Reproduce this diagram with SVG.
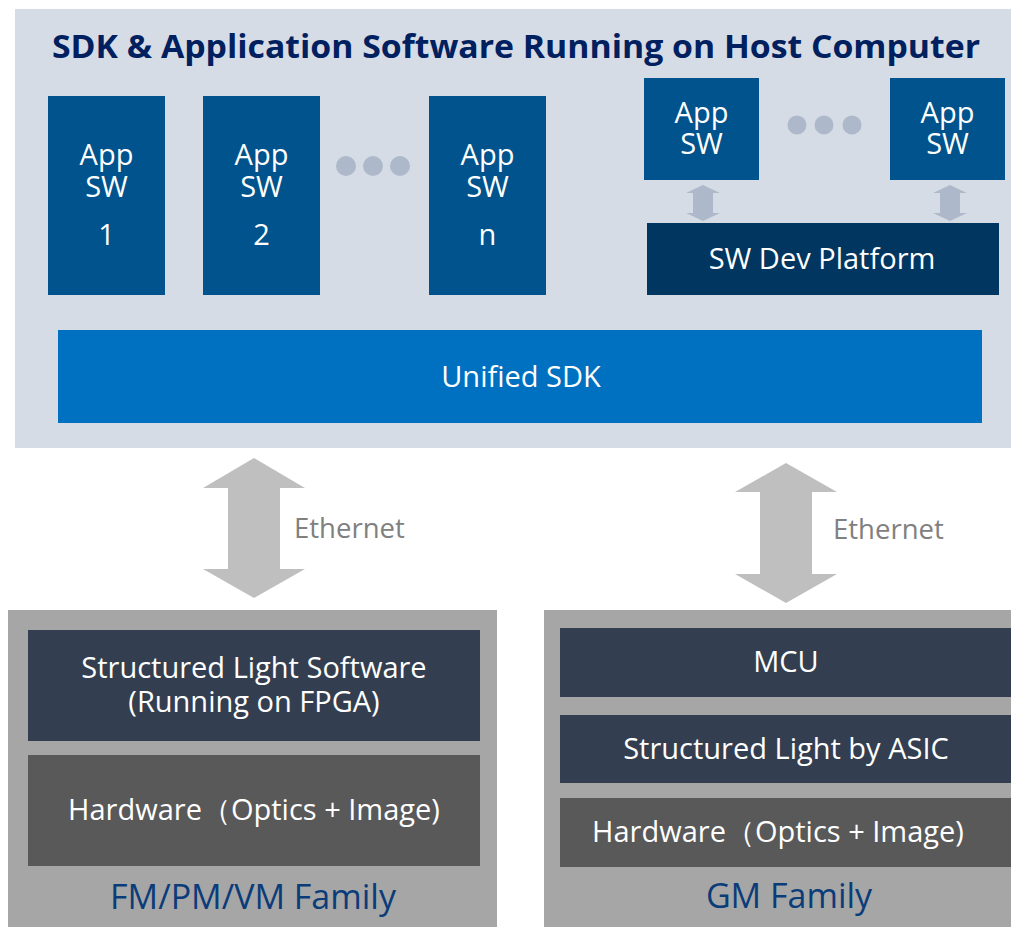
<svg xmlns="http://www.w3.org/2000/svg" width="1011" height="927" viewBox="0 0 1011 927">
<style>
.t{font-family:"Open Sans","Noto Sans","Liberation Sans",sans-serif;fill:#fff;text-anchor:middle}
.app{fill:#00538c}
.dot{fill:#adb9ca}
.dark{fill:#333f50}
.hw{fill:#595959}
.panel{fill:#a6a6a6}
.fam{font-family:"Open Sans","Noto Sans","Liberation Sans",sans-serif;fill:#0b3c7a;text-anchor:middle;font-size:34px}
.eth{font-family:"Open Sans","Noto Sans","Liberation Sans",sans-serif;fill:#808080;font-size:27.5px}
</style>
<rect width="1011" height="927" fill="#fff"/>
<g id="host">
<rect x="15" y="9" width="996" height="439" fill="#d6dce5"/>
<text x="516" y="58" font-family="Open Sans,Noto Sans,sans-serif" font-weight="bold" font-size="32" fill="#002060" text-anchor="middle" textLength="928" lengthAdjust="spacingAndGlyphs">SDK &amp; Application Software Running on Host Computer</text>
</g>
<g id="app1"><rect class="app" x="48" y="96" width="117" height="199"/><text class="t" font-size="29" x="106.5" y="165">App</text><text class="t" font-size="29" x="106.5" y="197">SW</text><text class="t" font-size="29" x="106.5" y="245">1</text></g>
<g id="app2"><rect class="app" x="203" y="96" width="117" height="199"/><text class="t" font-size="29" x="261.5" y="165">App</text><text class="t" font-size="29" x="261.5" y="197">SW</text><text class="t" font-size="29" x="261.5" y="245">2</text></g>
<g id="dots1"><circle class="dot" cx="346" cy="166" r="10"/><circle class="dot" cx="373" cy="166" r="10"/><circle class="dot" cx="400" cy="166" r="10"/></g>
<g id="appn"><rect class="app" x="429" y="96" width="117" height="199"/><text class="t" font-size="29" x="487.5" y="165">App</text><text class="t" font-size="29" x="487.5" y="197">SW</text><text class="t" font-size="29" x="487.5" y="245">n</text></g>
<g id="appA"><rect class="app" x="644" y="78" width="115" height="102"/><text class="t" font-size="29" x="701.5" y="123">App</text><text class="t" font-size="29" x="701.5" y="154">SW</text></g>
<g id="dots2"><circle class="dot" cx="797" cy="125" r="9.5"/><circle class="dot" cx="824" cy="125" r="9.5"/><circle class="dot" cx="852" cy="125" r="9.5"/></g>
<g id="appB"><rect class="app" x="890" y="78" width="115" height="102"/><text class="t" font-size="29" x="947.5" y="123">App</text><text class="t" font-size="29" x="947.5" y="154">SW</text></g>
<g id="swdev"><rect x="647" y="223" width="352" height="72" fill="#003660"/><text class="t" font-size="29" x="822" y="269">SW Dev Platform</text></g>
<g id="sdk"><rect x="58" y="330" width="924" height="93" fill="#0070c0"/><text class="t" font-size="29" x="521" y="387">Unified SDK</text></g>
<g id="connectors">
<path class="dot" d="M703,185 L720,193 L713,193 L713,213 L720,213 L703,221 L686,213 L693,213 L693,193 L686,193 Z"/>
<path class="dot" d="M950,185 L967,193 L960,193 L960,213 L967,213 L950,221 L933,213 L940,213 L940,193 L933,193 Z"/>
<path fill="#bfbfbf" d="M254,458 L305,488 L280,488 L280,569 L305,569 L254,598 L203,569 L228,569 L228,488 L203,488 Z"/>
<path fill="#bfbfbf" d="M786,463 L837,492 L812,492 L812,574 L837,574 L786,603 L735,574 L760,574 L760,492 L735,492 Z"/>
<text class="eth" x="294" y="538">Ethernet</text>
<text class="eth" x="833" y="539">Ethernet</text>
</g>
<g id="fm">
<rect class="panel" x="8" y="610" width="489" height="317"/>
<rect class="dark" x="28" y="630" width="452" height="111"/>
<text class="t" font-size="29" x="254" y="678">Structured Light Software</text>
<text class="t" font-size="29" x="254" y="712">(Running on FPGA)</text>
<rect class="hw" x="28" y="755" width="452" height="111"/>
<text class="t" font-size="29" x="254" y="820">Hardware（Optics + Image)</text>
<text class="fam" x="253" y="909">FM/PM/VM Family</text>
</g>
<g id="gm">
<rect class="panel" x="544" y="610" width="467" height="317"/>
<rect class="dark" x="560" y="628" width="451" height="69"/>
<text class="t" font-size="29" x="786" y="672">MCU</text>
<rect class="dark" x="560" y="715" width="451" height="68"/>
<text class="t" font-size="29" x="786" y="759">Structured Light by ASIC</text>
<rect class="hw" x="560" y="798" width="451" height="69"/>
<text class="t" font-size="29" x="778" y="842">Hardware（Optics + Image)</text>
<text class="fam" x="789" y="908">GM Family</text>
</g>
</svg>
